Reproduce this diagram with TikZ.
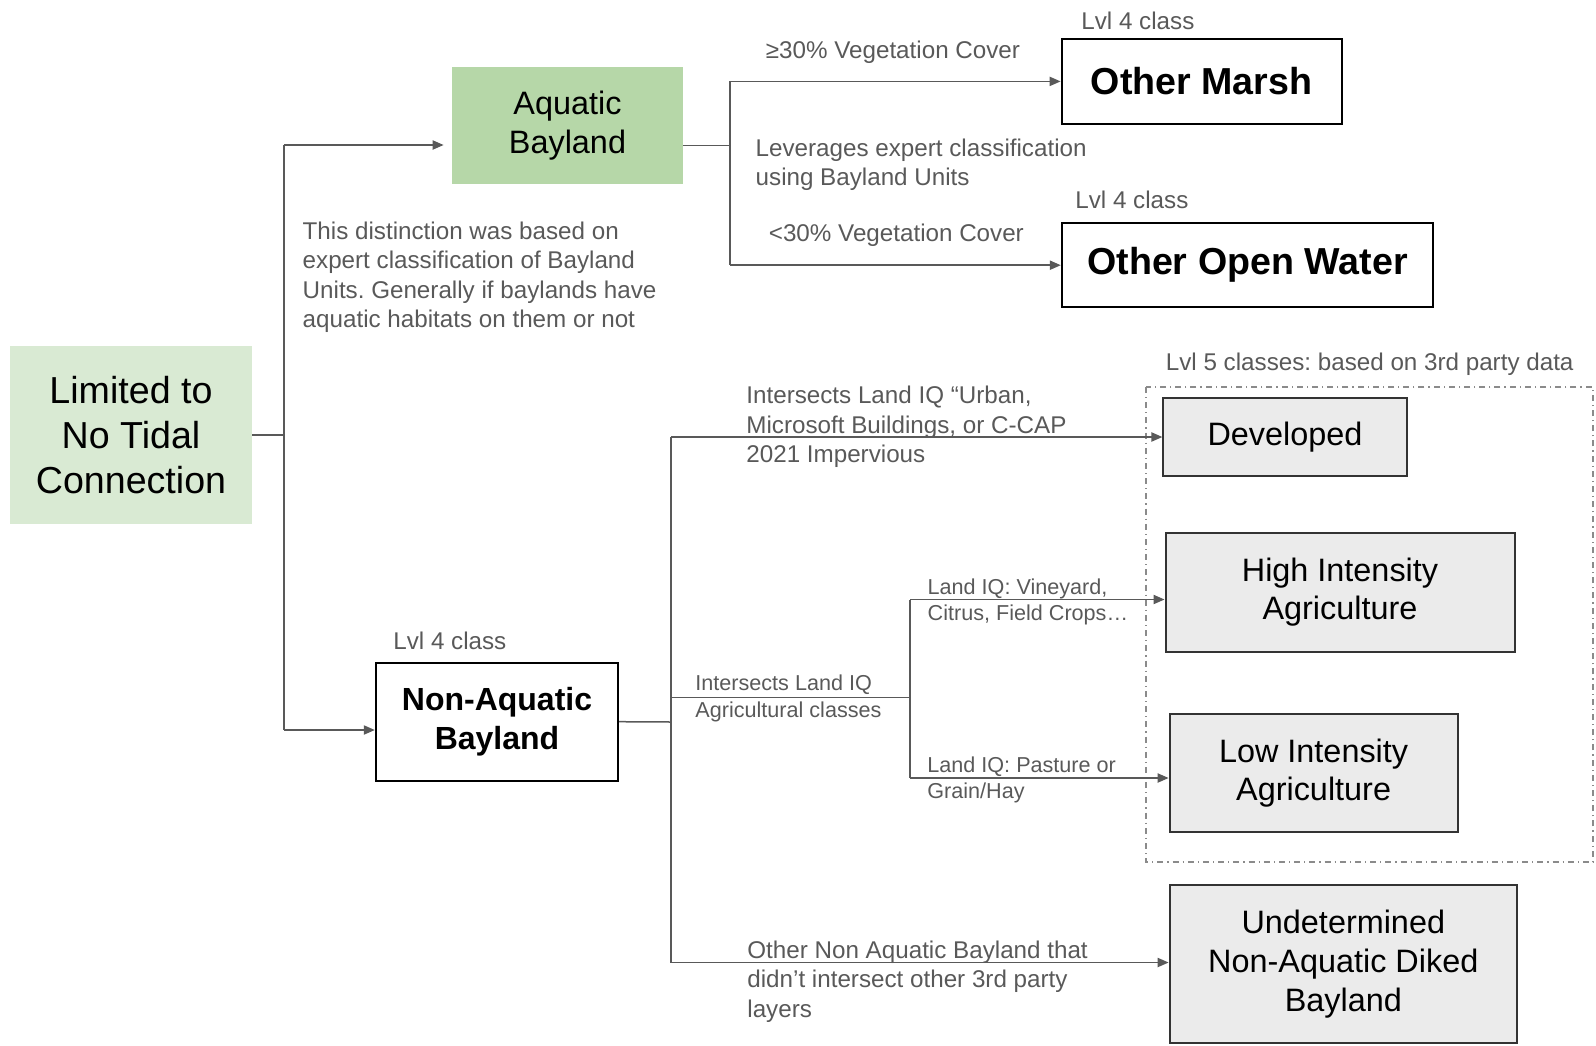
\documentclass[tikz,border=0pt]{standalone}
\usepackage{fontspec}
\setmainfont{Liberation Sans}
\usetikzlibrary{arrows}
\usetikzlibrary{arrows.meta}
\usetikzlibrary{positioning}
\definecolor{leafgreen}{HTML}{B6D7A8}
\definecolor{palegreen}{HTML}{D9EAD3}
\definecolor{boxgray}{HTML}{EBEBEB}
\definecolor{linegray}{HTML}{595959}
\tikzset{> = {Triangle[length = 5.5pt, width = 4.6pt]}, x = 0.5pt, y = -0.5pt}
\tikzset{
  class/.style = {rectangle, inner sep = 0pt, align = center},
  lvlfour/.style = {class, draw = black, line width = 1pt, font = \fontsize{18.8}{22.6}\selectfont\bfseries},
  lvlfive/.style = {class, draw = black!80, fill = boxgray, line width = 1pt, font = \fontsize{16.2}{19.3}\selectfont},
  note/.style = {anchor = west, inner sep = 0pt, yshift = -1.2pt, align = left, text = linegray, font = \fontsize{12.1}{14.7}\selectfont},
  smallnote/.style = {note, font = \fontsize{10.8}{13.2}\selectfont},
  link/.style = {draw = linegray, line width = 0.75pt}
}
\frenchspacing

\begin{document}
\begin{tikzpicture}
    \useasboundingbox (0,0) rectangle (1596,1045);
    % classes
    \node [class, fill = palegreen, minimum width = 121pt, minimum height = 89pt, font = \fontsize{18.8}{22.6}\selectfont] (lim) at (131,435) {Limited to\\No Tidal\\Connection};
    \node [class, fill = leafgreen, minimum width = 115.5pt, minimum height = 58.5pt, font = \fontsize{16.2}{19.3}\selectfont] (aq) at (567.5,125.5) {Aquatic\\Bayland};
    \node [lvlfour, minimum width = 140pt, minimum height = 42.7pt] (marsh) at (1201.6,81.4) {Other Marsh};
    \node [lvlfour, minimum width = 185.7pt, minimum height = 42.2pt] (water) at (1247.5,265.2) {Other Open Water};
    \node [lvlfour, minimum width = 121.2pt, minimum height = 59pt, font = \fontsize{16}{19.3}\selectfont\bfseries] (nonaq) at (497,721.7) {Non-Aquatic\\Bayland};
    \node [lvlfive, minimum width = 121.6pt, minimum height = 39.2pt] (dev) at (1285,437.2) {Developed};
    \node [lvlfive, minimum width = 174.5pt, minimum height = 59.5pt] (high) at (1340,592) {High Intensity\\Agriculture};
    \node [lvlfive, minimum width = 144pt, minimum height = 59pt] (low) at (1313.6,773) {Low Intensity\\Agriculture};
    \node [lvlfive, minimum width = 173.7pt, minimum height = 79.2pt] (undet) at (1343.3,964.2) {Undetermined\\Non-Aquatic Diked\\Bayland};
    \draw [linegray!70, line width = 0.6pt, dash dot] (1146,387) rectangle (1593,862);
    % labels
    \node [note] (lvlmarsh) at (1081,18.3) {Lvl 4 class};
    \node [note] (lvlwater) at (1075,197.5) {Lvl 4 class};
    \node [note] (lvlnonaq) at (393,638) {Lvl 4 class};
    \node [note] (lvlfivelbl) at (1165.5,361.4) {Lvl 5 classes: based on 3rd party data};
    \node [note] (why) at (302.3,274.8) {This distinction was based on\\expert classification of Bayland\\Units. Generally if baylands have\\aquatic habitats on them or not};
    \node [note] (veghi) at (765.5,49.9) {≥30\% Vegetation Cover};
    \node [note] (expert) at (755.3,162.3) {Leverages expert classification\\using Bayland Units};
    \node [note] (veglo) at (768.5,233) {<30\% Vegetation Cover};
    \node [note] (urban) at (746,424.5) {Intersects Land IQ “Urban,\\Microsoft Buildings, or C-CAP\\2021 Impervious};
    \node [smallnote] (agri) at (695,696) {Intersects Land IQ\\Agricultural classes};
    \node [smallnote] (vine) at (927.3,599.5) {Land IQ: Vineyard,\\Citrus, Field Crops…};
    \node [smallnote] (pasture) at (927,777.7) {Land IQ: Pasture or\\Grain/Hay};
    \node [note] (rest) at (747,979.2) {Other Non Aquatic Bayland that\\didn’t intersect other 3rd party\\layers};
    % junctions
    \coordinate (j1) at (284,435);
    \coordinate (j1t) at (284,145);
    \coordinate (j1b) at (284,730);
    \coordinate (j2) at (730,145.5);
    \coordinate (j2t) at (730,81.4);
    \coordinate (j2b) at (730,265.2);
    \coordinate (j3) at (671,722);
    \coordinate (j3t) at (671,437);
    \coordinate (j3m) at (671,697.3);
    \coordinate (j3b) at (671,962.5);
    \coordinate (j4) at (910,697.3);
    \coordinate (j4t) at (910,599.5);
    \coordinate (j4b) at (910,778);
    % paths
    \draw [link] (lim.east) -- (j1);
    \draw [link] (j1t) -- (j1b);
    \draw [link, ->, shorten >= 4pt] (j1t) -- (j1t -| aq.west);
    \draw [link, ->] (j1b) -- (j1b -| nonaq.west);
    \draw [link] (j2 -| aq.east) -- (j2);
    \draw [link] (j2t) -- (j2b);
    \draw [link, ->] (j2t) -- (marsh.west);
    \draw [link, ->] (j2b) -- (water.west);
    \draw [link] (nonaq.east) -- (j3);
    \draw [link] (j3t) -- (j3b);
    \draw [link, ->] (j3t) -- (j3t -| dev.west);
    \draw [link] (j3m) -- (j4);
    \draw [link] (j4t) -- (j4b);
    \draw [link, ->] (j4t) -- (j4t -| high.west);
    \draw [link, ->] (j4b) -- (j4b -| low.west);
    \draw [link, ->] (j3b) -- (j3b -| undet.west);
\end{tikzpicture}
\end{document}
